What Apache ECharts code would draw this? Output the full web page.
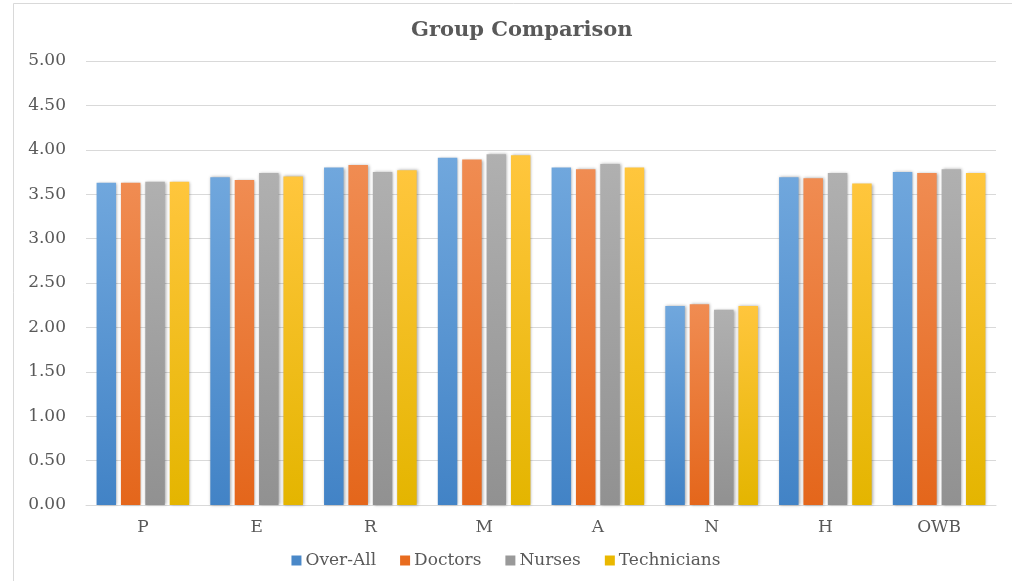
<!DOCTYPE html>
<html>
<head>
<meta charset="utf-8">
<script src="https://cdn.jsdelivr.net/npm/echarts@6/dist/echarts.min.js"></script>
<style>html,body{margin:0;padding:0;background:#fff;}#c{width:1012px;height:581px;}</style>
</head>
<body>
<div id="c"></div>
<script>
const categories = ['P', 'E', 'R', 'M', 'A', 'N', 'H', 'OWB'];
const overAll = [3.63, 3.69, 3.80, 3.91, 3.80, 2.24, 3.69, 3.75];
const doctors = [3.63, 3.66, 3.83, 3.89, 3.78, 2.26, 3.68, 3.74];
const nurses = [3.64, 3.74, 3.75, 3.95, 3.84, 2.20, 3.74, 3.78];
const technicians = [3.64, 3.70, 3.77, 3.94, 3.80, 2.24, 3.62, 3.74];
const seriesNames = ['Over-All', 'Doctors', 'Nurses', 'Technicians'];

const font = 'DejaVu Serif, serif';
const grads = [
  ['#70a7dd', '#4283c6'],
  ['#f08c52', '#e4661b'],
  ['#b0b0b0', '#919191'],
  ['#ffc63d', '#e4b500']
];
const legendColors = ['#4a88c8', '#e86c1f', '#999999', '#eab800'];
function grad(i) {
  return new echarts.graphic.LinearGradient(0, 0, 0, 1, [
    { offset: 0, color: grads[i][0] },
    { offset: 1, color: grads[i][1] }
  ]);
}
const dataSets = [overAll, doctors, nurses, technicians];

const chart = echarts.init(document.getElementById('c'));
chart.setOption({
  animation: false,
  backgroundColor: '#fff',
  title: {
    text: 'Group Comparison',
    left: 406,
    top: 15,
    textStyle: { fontFamily: font, fontWeight: 'bold', fontSize: 21, color: '#595959' }
  },
  graphic: [{
    type: 'rect',
    shape: { x: 13.5, y: 3.5, width: 1100, height: 700 },
    style: { fill: 'none', stroke: '#d9d9d9', lineWidth: 1 },
    silent: true
  }],
  legend: {
    bottom: 7,
    left: 'center',
    itemWidth: 10,
    itemHeight: 10,
    itemGap: 24,
    icon: 'rect',
    textStyle: { fontFamily: font, fontSize: 17, color: '#595959', padding: [0, 0, 0, -1] },
    data: seriesNames.map((n, i) => ({ name: n, itemStyle: { color: legendColors[i] } }))
  },
  grid: { left: 86, right: 16, top: 61, bottom: 76, containLabel: false },
  xAxis: {
    type: 'category',
    data: categories,
    axisLine: { lineStyle: { color: '#d9d9d9', width: 1 } },
    axisTick: { show: false },
    axisLabel: { fontFamily: font, fontSize: 17, color: '#595959', margin: 14 }
  },
  yAxis: {
    type: 'value',
    min: 0,
    max: 5,
    interval: 0.5,
    axisLine: { show: false },
    axisTick: { show: false },
    splitLine: { lineStyle: { color: '#d9d9d9', width: 1 } },
    axisLabel: {
      fontFamily: font, fontSize: 17, color: '#595959', margin: 20,
      formatter: v => v.toFixed(2)
    }
  },
  series: seriesNames.map((n, i) => ({
    name: n,
    type: 'bar',
    data: dataSets[i],
    barWidth: 19.5,
    barGap: '25%',
    itemStyle: {
      color: grad(i),
      shadowColor: 'rgba(0,0,0,0.35)',
      shadowBlur: 3,
      shadowOffsetX: 1,
      shadowOffsetY: 0
    }
  }))
});
</script>
</body>
</html>
